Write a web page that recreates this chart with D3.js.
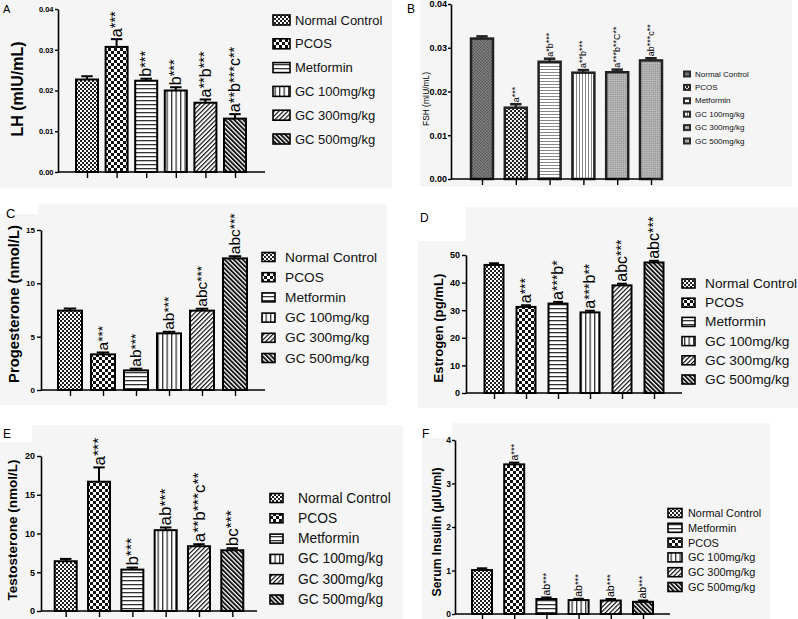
<!DOCTYPE html>
<html><head><meta charset="utf-8">
<script src="https://cdn.jsdelivr.net/npm/d3@7"></script>
<style>body{margin:0;background:#fff;} svg{display:block;font-family:"Liberation Sans",Arial,Helvetica,sans-serif;}</style>
</head><body><svg id="c" width="798" height="619"></svg>
<script>
// ---------- DATA ----------
const groups = ["Normal Control","PCOS","Metformin","GC 100mg/kg","GC 300mg/kg","GC 500mg/kg"];
const legendOrderF = ["Normal Control","Metformin","PCOS","GC 100mg/kg","GC 300mg/kg","GC 500mg/kg"];

const lhMean = [0.0227, 0.0307, 0.0224, 0.0200, 0.0170, 0.0131];
const lhErr  = [0.0008, 0.0019, 0.0005, 0.0008, 0.0008, 0.0011];
const lhSig  = ["", "a***", "b***", "b***", "a**b***", "a**b***c**"];
const lhTicks = [0, 0.01, 0.02, 0.03, 0.04];

const fshMean = [0.0321, 0.0163, 0.0268, 0.0243, 0.0244, 0.0271];
const fshErr  = [0.0005, 0.0008, 0.0007, 0.0006, 0.0006, 0.0005];
const fshSig  = ["", "a***", "a*b***", "a**b***", "a***b**C**", "ab***c**"];
const fshTicks = [0, 0.01, 0.02, 0.03, 0.04];

const progMean = [7.44, 3.34, 1.84, 5.31, 7.44, 12.34];
const progErr  = [0.2, 0.18, 0.16, 0.15, 0.18, 0.2];
const progSig  = ["", "a***", "ab***", "ab***", "abc***", "abc***"];
const progTicks = [0, 5, 10, 15];

const estMean = [46.4, 31.2, 32.4, 29.2, 39.0, 47.3];
const estErr  = [0.6, 0.6, 0.6, 0.6, 0.6, 0.6];
const estSig  = ["", "a***", "a***b*", "a***b**", "abc***", "abc***"];
const estTicks = [0, 10, 20, 30, 40, 50];

const testMean = [6.42, 16.68, 5.34, 10.43, 8.36, 7.84];
const testErr  = [0.3, 1.85, 0.26, 0.35, 0.26, 0.26];
const testSig  = ["", "a***", "b***", "ab***", "a**b***c**", "bc***"];
const testTicks = [0, 5, 10, 15, 20];

const insMean = [1.01, 3.44, 0.345, 0.32, 0.31, 0.28];
const insErr  = [0.04, 0.04, 0.035, 0.03, 0.035, 0.03];
const insSig  = ["", "a***", "ab***", "ab***", "ab***", "ab***"];
const insTicks = [0, 1, 2, 3, 4];

// ---------- DRAWING ----------
const svg = d3.select('#c');
const defs = svg.append('defs');
function mkPat(id, w, h, bg, rects, rot) {
  const p = defs.append('pattern').attr('id', id).attr('patternUnits', 'userSpaceOnUse')
    .attr('width', w).attr('height', h);
  if (rot) p.attr('patternTransform', `rotate(${rot})`);
  p.append('rect').attr('width', w).attr('height', h).attr('fill', bg);
  rects.forEach(r => p.append('rect').attr('x', r[0]).attr('y', r[1]).attr('width', r[2]).attr('height', r[3]).attr('fill', r[4]));
}
mkPat('nc', 4, 4, '#fff', [[0,0,2,2,'#222'],[2,2,2,2,'#222']]);
mkPat('pcos', 6, 6, '#fff', [[0,0,3,3,'#111'],[3,3,3,3,'#111']]);
mkPat('hl', 4, 4, '#fff', [[0,0,4,1.3,'#333']]);
mkPat('vl', 4.5, 4, '#fff', [[0,0,1.3,4,'#333']]);
mkPat('d1', 3.2, 3.2, '#fff', [[0,0,1.2,3.2,'#111']], 45);
mkPat('d2', 3.2, 3.2, '#fff', [[0,0,1.9,3.2,'#111']], -45);
mkPat('bnc', 3, 3, '#555', [[0,0,1.5,1.5,'#8a8a8a'],[1.5,1.5,1.5,1.5,'#8a8a8a']]);
mkPat('bpcos', 4, 4, '#eee', [[0,0,2,2,'#222'],[2,2,2,2,'#222']]);
mkPat('bhl', 3, 3, '#fff', [[0,0,3,1,'#888']]);
mkPat('bvl', 3, 3, '#fff', [[0,0,1,3,'#888']]);
mkPat('bx', 3, 3, '#cfcfcf', [[0,0,1.5,1.5,'#8a8a8a'],[1.5,1.5,1.5,1.5,'#8a8a8a']], 45);

const stdPats = ['nc','pcos','hl','vl','d1','d2'];
const bPats = ['bnc','bpcos','bhl','bvl','bx','bx'];

// panel backgrounds
const bgCol = '#f5f5f5';
[[0,0,392,188],[420,0,372,187],[0,204,387,201],[418,207,380,201],[0,425,403,194],[422,423,348,196]]
  .forEach(r => svg.append('rect').attr('x', r[0]).attr('y', r[1]).attr('width', r[2]).attr('height', r[3]).attr('fill', bgCol));
[[0,204,38,10],[418,207,48,34],[0,425,32,17],[422,423,30,15]]
  .forEach(r => svg.append('rect').attr('x', r[0]).attr('y', r[1]).attr('width', r[2]).attr('height', r[3]).attr('fill', '#fff'));

function sigText(g, s, L, S) {
  const t = g.append('text').attr('font-size', L).attr('text-anchor', 'start').attr('fill', '#000');
  const toks = s.match(/[a-zA-Z]+|\*+/g) || [];
  let raised = false;
  toks.forEach(tok => {
    const sp = t.append('tspan').text(tok);
    if (tok[0] === '*') {
      sp.attr('font-size', S);
      if (!raised) { sp.attr('dy', -0.1 * L); raised = true; }
    } else if (raised) { sp.attr('dy', 0.1 * L); raised = false; }
  });
}

function drawPanel(P) {
  const g = svg.append('g');
  const y = d3.scaleLinear().domain(P.domain).range(P.yRange);
  const x = d3.scalePoint().domain(groups).range([P.c0, P.c1]);
  const stroke = P.stroke || '#000';

  // bars
  g.selectAll('rect.bar').data(groups).join('rect').attr('class', 'bar')
    .attr('x', d => x(d) - P.barW / 2)
    .attr('y', (d, i) => y(P.mean[i]))
    .attr('width', P.barW)
    .attr('height', (d, i) => y(0) - y(P.mean[i]))
    .attr('fill', (d, i) => `url(#${P.pats[i]})`)
    .attr('stroke', stroke).attr('stroke-width', P.sw);

  // error bars
  groups.forEach((d, i) => {
    const cx = x(d), y0 = y(P.mean[i]), y1 = y(P.mean[i] + P.err[i]), cw = P.barW * 0.26;
    g.append('line').attr('x1', cx).attr('x2', cx).attr('y1', y0).attr('y2', y1).attr('stroke', stroke).attr('stroke-width', P.sw);
    g.append('line').attr('x1', cx - cw).attr('x2', cx + cw).attr('y1', y1).attr('y2', y1).attr('stroke', stroke).attr('stroke-width', P.sw);
    if (P.sig[i]) {
      const ag = g.append('g').attr('transform', `translate(${cx + 0.33 * P.L},${y1 - 2}) rotate(-90)`);
      sigText(ag, P.sig[i], P.L, P.S);
    }
  });

  // y axis
  const ya = g.append('g').attr('transform', `translate(${P.axisX},0)`)
    .call(d3.axisLeft(y).tickValues(P.ticks).tickFormat(P.fmt).tickSize(P.tickSize).tickSizeOuter(0).tickPadding(P.tickPad));
  ya.select('.domain').attr('stroke', '#000').attr('stroke-width', 1.6);
  ya.selectAll('.tick line').attr('stroke', '#000').attr('stroke-width', 1.4);
  ya.selectAll('.tick text').attr('font-size', P.tickFont).attr('font-weight', 'bold').attr('fill', '#000')
    .attr('font-family', '"Liberation Sans",Arial,sans-serif');

  // x axis
  const xa = g.append('g').attr('transform', `translate(0,${y(0)})`)
    .call(d3.axisBottom(x).tickFormat('').tickSize(6).tickSizeOuter(0));
  xa.select('.domain').attr('d', `M${P.axisX},0H${P.xEnd}`).attr('stroke', '#000').attr('stroke-width', 1.6);
  xa.selectAll('.tick line').attr('stroke', '#000').attr('stroke-width', 1.4);

  // y label, fitted to the measured length
  const yl = g.append('text').attr('transform', `translate(${P.yl.x},${P.yl.y}) rotate(-90)`)
    .attr('text-anchor', 'middle').attr('dominant-baseline', 'central')
    .attr('font-weight', P.yl.bold ? 'bold' : 'normal').attr('font-size', 16).text(P.yl.text);
  const len = yl.node().getComputedTextLength();
  yl.attr('font-size', 16 * P.yl.len / len);

  // panel letter
  g.append('text').attr('x', P.letter[1]).attr('y', P.letter[2]).attr('font-size', P.letter[3]).text(P.letter[0]);

  // legend
  const Lg = P.legend;
  (Lg.order || groups).forEach((name, k) => {
    const idx = groups.indexOf(name);
    const ly = Lg.y0 + k * Lg.dy;
    if (Lg.bstyle) {
      g.append('rect').attr('x', Lg.x).attr('y', ly - Lg.h / 2).attr('width', Lg.w).attr('height', Lg.h).attr('fill', '#2a2a2a');
      g.append('rect').attr('x', Lg.x + 2).attr('y', ly - Lg.h / 2 + 2).attr('width', Lg.w - 4).attr('height', Lg.h - 4).attr('fill', `url(#${P.pats[idx]})`);
    } else {
      g.append('rect').attr('x', Lg.x).attr('y', ly - Lg.h / 2).attr('width', Lg.w).attr('height', Lg.h)
        .attr('fill', `url(#${P.pats[idx]})`).attr('stroke', '#000').attr('stroke-width', 1.6);
    }
    g.append('text').attr('x', Lg.tx).attr('y', ly).attr('dominant-baseline', 'central')
      .attr('font-size', Lg.font).attr('fill', '#111').text(name);
  });
}

const f2 = d3.format('.2f'), fd = d3.format('d');

drawPanel({ mean: lhMean, err: lhErr, sig: lhSig, ticks: lhTicks, fmt: f2, domain: [0, 0.04],
  yRange: [172, 9], axisX: 58, xEnd: 265, c0: 87, c1: 235, barW: 22, sw: 2, pats: stdPats,
  tickFont: 7.5, tickSize: 3, tickPad: 1.5, L: 16, S: 14.5,
  yl: { text: 'LH (mIU/mL)', x: 17, y: 89, len: 95, bold: true }, letter: ['A', 3, 13, 11],
  legend: { x: 273, w: 17, h: 10, tx: 295, y0: 20, dy: 23.8, font: 13 } });

drawPanel({ mean: fshMean, err: fshErr, sig: fshSig, ticks: fshTicks, fmt: f2, domain: [0, 0.04],
  yRange: [179, 4], axisX: 451, xEnd: 653, c0: 482, c1: 651, barW: 22, sw: 2.5, stroke: '#222', pats: bPats,
  tickFont: 9, tickSize: 3, tickPad: 1, L: 9, S: 9,
  yl: { text: 'FSH (mIU/mL)', x: 426, y: 99, len: 54, bold: false }, letter: ['B', 407, 13, 12],
  legend: { x: 683, w: 8, h: 7, tx: 695, y0: 74, dy: 13.4, font: 8, bstyle: true } });

drawPanel({ mean: progMean, err: progErr, sig: progSig, ticks: progTicks, fmt: fd, domain: [0, 15],
  yRange: [390, 230], axisX: 41, xEnd: 265, c0: 70, c1: 235, barW: 24, sw: 2, pats: stdPats,
  tickFont: 8, tickSize: 4, tickPad: 2, L: 15.5, S: 13.5,
  yl: { text: 'Progesterone (nmol/L)', x: 14, y: 304, len: 158, bold: true }, letter: ['C', 6, 218, 13],
  legend: { x: 262, w: 13, h: 9, tx: 285, y0: 257, dy: 20.2, font: 13.7 } });

drawPanel({ mean: estMean, err: estErr, sig: estSig, ticks: estTicks, fmt: fd, domain: [0, 50],
  yRange: [393, 255], axisX: 466, xEnd: 682, c0: 494, c1: 654, barW: 19, sw: 2, pats: stdPats,
  tickFont: 9, tickSize: 4, tickPad: 2, L: 16, S: 14,
  yl: { text: 'Estrogen (pg/mL)', x: 438, y: 328, len: 109, bold: true }, letter: ['D', 420, 222, 12],
  legend: { x: 682, w: 13, h: 9, tx: 705, y0: 283.5, dy: 19.2, font: 13.7 } });

drawPanel({ mean: testMean, err: testErr, sig: testSig, ticks: testTicks, fmt: fd, domain: [0, 20],
  yRange: [611, 456], axisX: 41, xEnd: 257, c0: 65.7, c1: 232.3, barW: 22, sw: 2, pats: stdPats,
  tickFont: 9, tickSize: 4, tickPad: 2, L: 17, S: 15.5,
  yl: { text: 'Testosterone (nmol/L)', x: 12, y: 530, len: 141, bold: true }, letter: ['E', 3, 438, 12],
  legend: { x: 270, w: 13, h: 9, tx: 298, y0: 498, dy: 20.3, font: 13.8 } });

drawPanel({ mean: insMean, err: insErr, sig: insSig, ticks: insTicks, fmt: fd, domain: [0, 4],
  yRange: [614, 440], axisX: 455, xEnd: 670, c0: 482, c1: 643, barW: 20, sw: 2, pats: stdPats,
  tickFont: 8.5, tickSize: 3, tickPad: 1, L: 10.5, S: 9.5,
  yl: { text: 'Serum Insulin (µIU/ml)', x: 437, y: 532, len: 129, bold: true }, letter: ['F', 422, 438, 12],
  legend: { x: 668, w: 14, h: 9, tx: 688, y0: 513, dy: 14.8, font: 10.9, order: legendOrderF } });
</script></body></html>
